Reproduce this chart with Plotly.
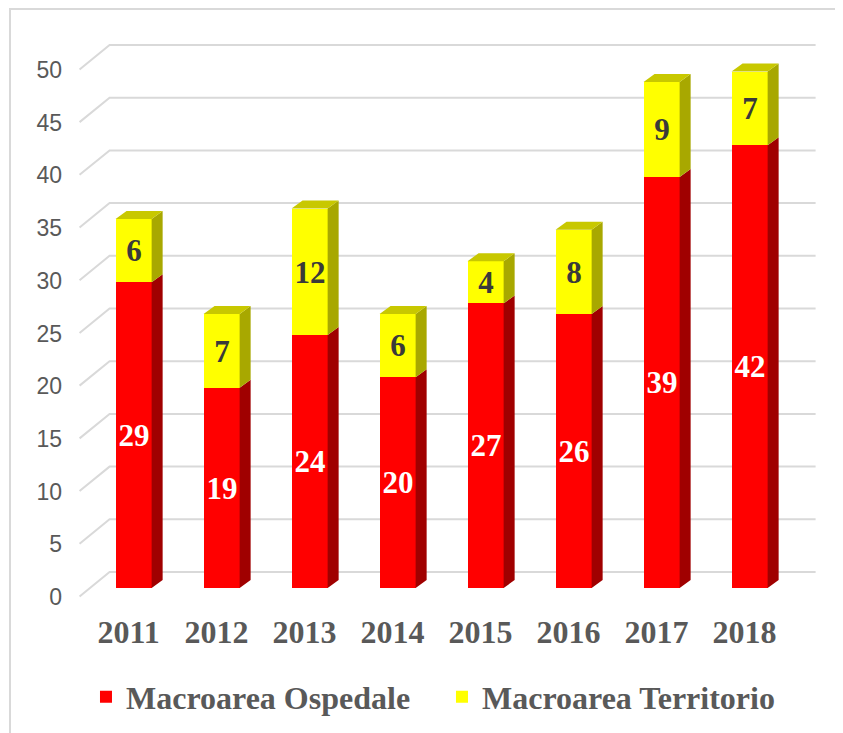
import plotly.graph_objects as go

years = ["2011", "2012", "2013", "2014", "2015", "2016", "2017", "2018"]
ospedale = [29, 19, 24, 20, 27, 26, 39, 42]
territorio = [6, 7, 12, 6, 4, 8, 9, 7]
y_ticks = [0, 5, 10, 15, 20, 25, 30, 35, 40, 45, 50]

RED, RED_SIDE = "#FF0000", "#A00000"
YEL, YEL_SIDE, YEL_TOP = "#FFFF00", "#A8A800", "#C8C800"
GRID = "#D9D9D9"
TXT = "#595959"

xs = list(range(len(years)))
BW = 0.41          # bar width (category units)
DX, DY = 0.125, 0.76   # 3D depth offsets (x units, y units)

fig = go.Figure()

fig.add_trace(go.Bar(
    x=xs, y=ospedale, name="Macroarea Ospedale", width=BW,
    marker=dict(color=RED, line=dict(width=0)),
    text=[str(v) for v in ospedale], textposition="inside",
    insidetextanchor="middle", constraintext="none", textangle=0,
    textfont=dict(family="Liberation Serif", size=31, color="white", weight="bold"),
    hoverinfo="skip",
))
fig.add_trace(go.Bar(
    x=xs, y=territorio, name="Macroarea Territorio", width=BW,
    marker=dict(color=YEL, line=dict(width=0)),
    text=[str(v) for v in territorio], textposition="inside",
    insidetextanchor="middle", constraintext="none", textangle=0,
    textfont=dict(family="Liberation Serif", size=31, color="#3A3A3A", weight="bold"),
    hoverinfo="skip",
))

def side_polys(bases, tops):
    px, py = [], []
    for i, (b, t) in enumerate(zip(bases, tops)):
        xr = xs[i] + BW / 2
        px += [xr, xr + DX, xr + DX, xr, xr, None]
        py += [b, b + DY, t + DY, t, b, None]
    return px, py

totals = [a + b for a, b in zip(ospedale, territorio)]
rx, ry = side_polys([0] * len(xs), ospedale)
yx, yy = side_polys(ospedale, totals)
fig.add_trace(go.Scatter(x=rx, y=ry, fill="toself", fillcolor=RED_SIDE, mode="lines",
                         line=dict(width=0, color=RED_SIDE), showlegend=False, hoverinfo="skip"))
fig.add_trace(go.Scatter(x=yx, y=yy, fill="toself", fillcolor=YEL_SIDE, mode="lines",
                         line=dict(width=0, color=YEL_SIDE), showlegend=False, hoverinfo="skip"))
tx, ty = [], []
for i, t in enumerate(totals):
    xl, xr = xs[i] - BW / 2, xs[i] + BW / 2
    tx += [xl, xr, xr + DX, xl + DX, xl, None]
    ty += [t, t, t + DY, t + DY, t, None]
fig.add_trace(go.Scatter(x=tx, y=ty, fill="toself", fillcolor=YEL_TOP, mode="lines",
                         line=dict(width=0, color=YEL_TOP), showlegend=False, hoverinfo="skip"))

# 3D style gridlines (front diagonal + back wall)
shapes = []
for v in y_ticks:
    shapes.append(dict(
        type="path", xref="x", yref="y", layer="below",
        path=f"M -0.614 {v - 0.8} L -0.273 {v + 1.52} L 7.75 {v + 1.52}",
        line=dict(color=GRID, width=2),
    ))
# outer chart border
shapes.append(dict(type="rect", xref="paper", yref="paper",
                   x0=-0.0829, x1=1.3, y0=-0.5, y1=1.0365,
                   line=dict(color=GRID, width=2), layer="below"))

fig.update_layout(
    width=835, height=725,
    margin=dict(l=64, r=23, t=22, b=128, autoexpand=False),
    paper_bgcolor="white", plot_bgcolor="white",
    barmode="stack", bargap=0,
    shapes=shapes,
    showlegend=True,
    legend=dict(orientation="h", traceorder="normal", entrywidth=311,
                x=0.0187, xanchor="left", y=-0.16, yanchor="middle",
                font=dict(family="Liberation Serif", size=32, color=TXT, weight="bold"),
                itemclick=False, itemdoubleclick=False),
    xaxis=dict(range=[-0.7, 7.8], tickmode="array", tickvals=xs, ticktext=years,
               showgrid=False, zeroline=False, showline=False, ticks="",
               automargin=False, ticklabelstandoff=5, ticklabelshift=-5,
               tickfont=dict(family="Liberation Serif", size=32, color=TXT, weight="bold")),
    yaxis=dict(range=[-1.61, 52.94], tickmode="array", tickvals=y_ticks,
               showgrid=False, zeroline=False, showline=False, ticks="",
               automargin=False, ticklabelstandoff=9, ticklabelshift=9,
               tickfont=dict(family="Liberation Sans", size=23, color=TXT)),
)

fig.write_html("out.html")
